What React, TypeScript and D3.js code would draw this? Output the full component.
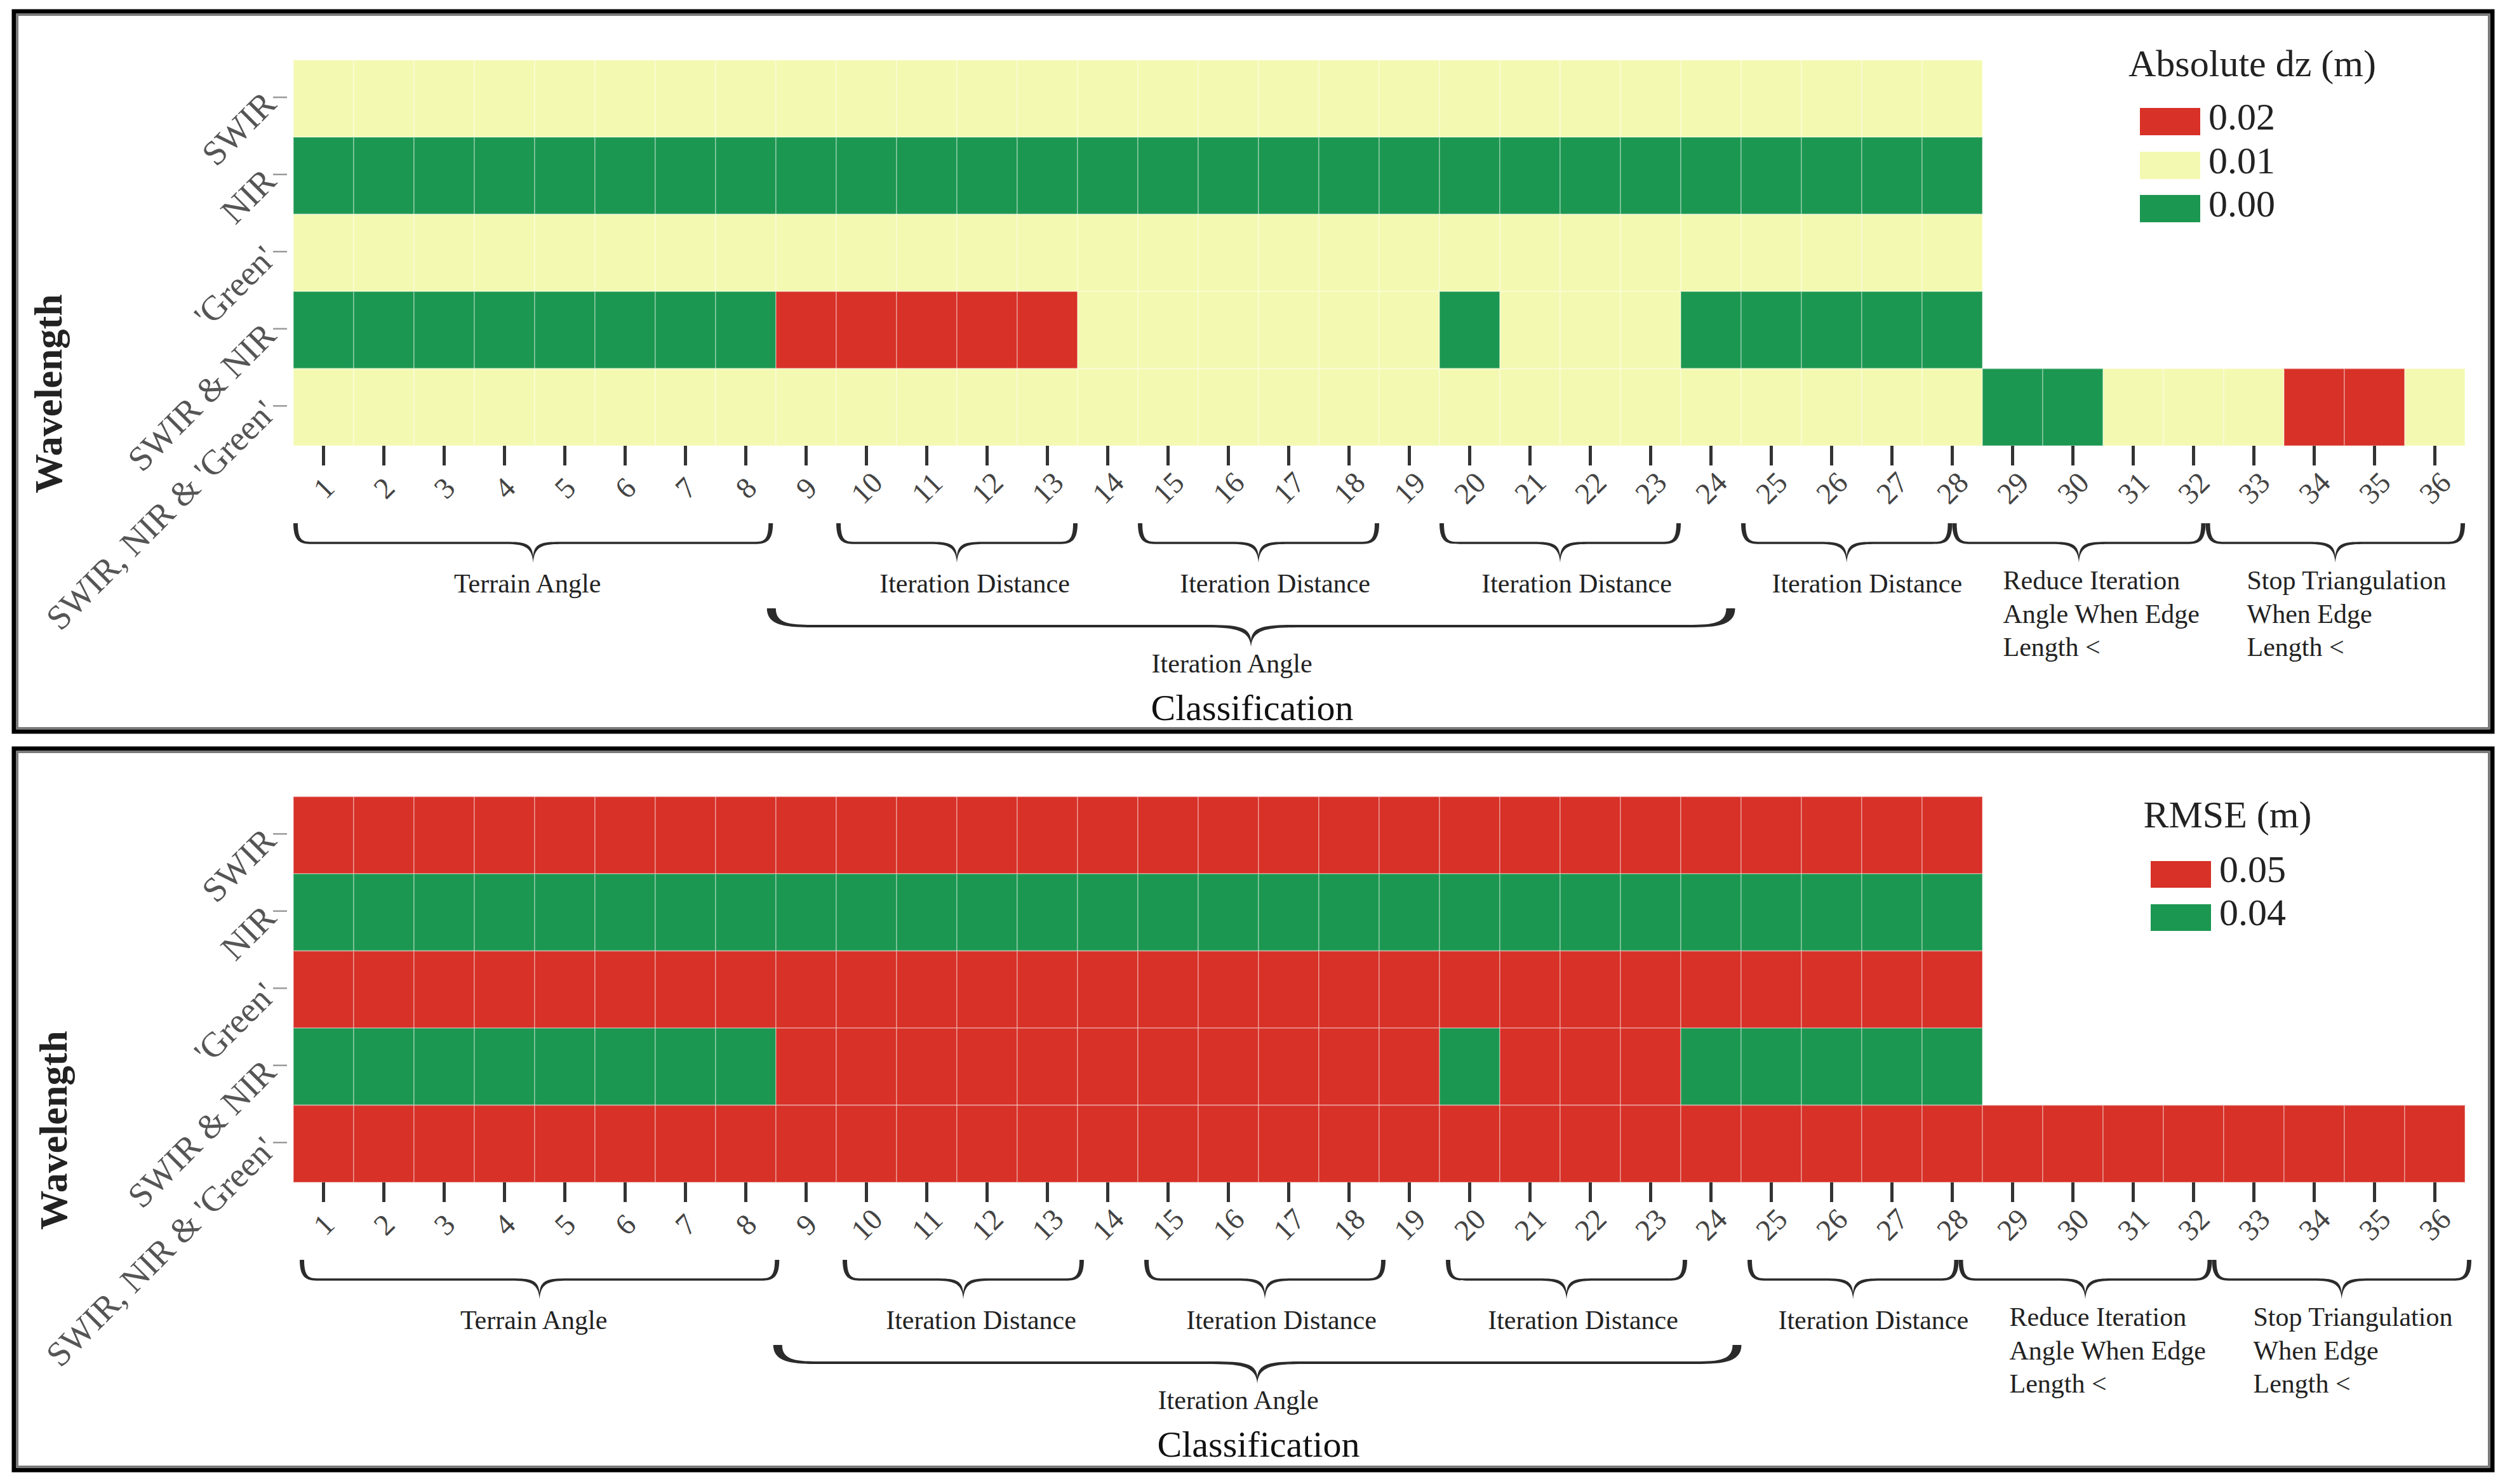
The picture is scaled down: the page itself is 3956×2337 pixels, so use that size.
import React from 'react';
import * as d3 from 'd3';

const classifications = [
  '1', '2', '3', '4', '5', '6', '7', '8', '9', '10', '11', '12',
  '13', '14', '15', '16', '17', '18', '19', '20', '21', '22', '23', '24',
  '25', '26', '27', '28', '29', '30', '31', '32', '33', '34', '35', '36',
];
const wavelengths = ['SWIR', 'NIR', "'Green'", 'SWIR & NIR', "SWIR, NIR & 'Green'"];

// Absolute dz (m)
const dzSWIR = [
  0.01, 0.01, 0.01, 0.01, 0.01, 0.01, 0.01,
  0.01, 0.01, 0.01, 0.01, 0.01, 0.01, 0.01,
  0.01, 0.01, 0.01, 0.01, 0.01, 0.01, 0.01,
  0.01, 0.01, 0.01, 0.01, 0.01, 0.01, 0.01,
];
const dzNIR = [
  0.0, 0.0, 0.0, 0.0, 0.0, 0.0, 0.0,
  0.0, 0.0, 0.0, 0.0, 0.0, 0.0, 0.0,
  0.0, 0.0, 0.0, 0.0, 0.0, 0.0, 0.0,
  0.0, 0.0, 0.0, 0.0, 0.0, 0.0, 0.0,
];
const dzGreen = [
  0.01, 0.01, 0.01, 0.01, 0.01, 0.01, 0.01,
  0.01, 0.01, 0.01, 0.01, 0.01, 0.01, 0.01,
  0.01, 0.01, 0.01, 0.01, 0.01, 0.01, 0.01,
  0.01, 0.01, 0.01, 0.01, 0.01, 0.01, 0.01,
];
const dzSwirNir = [
  0.0, 0.0, 0.0, 0.0, 0.0, 0.0, 0.0,
  0.0, 0.02, 0.02, 0.02, 0.02, 0.02, 0.01,
  0.01, 0.01, 0.01, 0.01, 0.01, 0.0, 0.01,
  0.01, 0.01, 0.0, 0.0, 0.0, 0.0, 0.0,
];
const dzAll = [
  0.01, 0.01, 0.01, 0.01, 0.01, 0.01, 0.01,
  0.01, 0.01, 0.01, 0.01, 0.01, 0.01, 0.01,
  0.01, 0.01, 0.01, 0.01, 0.01, 0.01, 0.01,
  0.01, 0.01, 0.01, 0.01, 0.01, 0.01, 0.01,
  0.0, 0.0, 0.01, 0.01, 0.01, 0.02, 0.02, 0.01,
];

// RMSE (m)
const rmseSWIR = [
  0.05, 0.05, 0.05, 0.05, 0.05, 0.05, 0.05,
  0.05, 0.05, 0.05, 0.05, 0.05, 0.05, 0.05,
  0.05, 0.05, 0.05, 0.05, 0.05, 0.05, 0.05,
  0.05, 0.05, 0.05, 0.05, 0.05, 0.05, 0.05,
];
const rmseNIR = [
  0.04, 0.04, 0.04, 0.04, 0.04, 0.04, 0.04,
  0.04, 0.04, 0.04, 0.04, 0.04, 0.04, 0.04,
  0.04, 0.04, 0.04, 0.04, 0.04, 0.04, 0.04,
  0.04, 0.04, 0.04, 0.04, 0.04, 0.04, 0.04,
];
const rmseGreen = [
  0.05, 0.05, 0.05, 0.05, 0.05, 0.05, 0.05,
  0.05, 0.05, 0.05, 0.05, 0.05, 0.05, 0.05,
  0.05, 0.05, 0.05, 0.05, 0.05, 0.05, 0.05,
  0.05, 0.05, 0.05, 0.05, 0.05, 0.05, 0.05,
];
const rmseSwirNir = [
  0.04, 0.04, 0.04, 0.04, 0.04, 0.04, 0.04,
  0.04, 0.05, 0.05, 0.05, 0.05, 0.05, 0.05,
  0.05, 0.05, 0.05, 0.05, 0.05, 0.04, 0.05,
  0.05, 0.05, 0.04, 0.04, 0.04, 0.04, 0.04,
];
const rmseAll = [
  0.05, 0.05, 0.05, 0.05, 0.05, 0.05, 0.05,
  0.05, 0.05, 0.05, 0.05, 0.05, 0.05, 0.05,
  0.05, 0.05, 0.05, 0.05, 0.05, 0.05, 0.05,
  0.05, 0.05, 0.05, 0.05, 0.05, 0.05, 0.05,
  0.05, 0.05, 0.05, 0.05, 0.05, 0.05, 0.05, 0.05,
];

const dzLegendValues = ['0.02', '0.01', '0.00'];
const rmseLegendValues = ['0.05', '0.04'];

// classification groups (spans in tick units)
const groupLabels = [
  ['Terrain Angle'],
  ['Iteration Distance'],
  ['Iteration Distance'],
  ['Iteration Distance'],
  ['Iteration Distance'],
  ['Reduce Iteration', 'Angle When Edge', 'Length <'],
  ['Stop Triangulation', 'When Edge', 'Length <'],
];
const groupFrom = [0.5, 9.5, 14.5, 19.5, 24.5, 28, 32.2];
const groupTo = [8.45, 13.5, 18.5, 23.5, 28, 32.2, 36.5];
const outerLabel = 'Iteration Angle';
const outerFrom = 8.35;
const outerTo = 24.4;

// styling / layout (not data)
const RED = '#d73128';
const YELLOW = '#f4f9b2';
const GREEN = '#1c9751';
const FONT = "'Liberation Serif', 'Times New Roman', Times, serif";
const labelShift = [-9, 28, 26, 26, 32, 80, 65];

function bracePath(x0: number, x1: number, yT: number, yM: number, yP: number, r: number, rm: number, tH: number, wE: number, notch: number) {
  const xm = (x0 + x1) / 2;
  const b = yM + tH;
  const t = yM - tH;
  const p = d3.path();
  p.moveTo(x0, yT);
  p.bezierCurveTo(x0, b, x0 + r * 0.45, b, x0 + r, b);
  p.lineTo(xm - rm, b);
  p.bezierCurveTo(xm - rm * 0.35, b, xm - 2, b + 2, xm, yP);
  p.bezierCurveTo(xm + 2, b + 2, xm + rm * 0.35, b, xm + rm, b);
  p.lineTo(x1 - r, b);
  p.bezierCurveTo(x1 - r * 0.45, b, x1, b, x1, yT);
  p.lineTo(x1 - wE, yT);
  p.bezierCurveTo(x1 - wE, t, x1 - r * 0.5, t, x1 - r, t);
  p.lineTo(xm + rm, t);
  p.bezierCurveTo(xm + rm * 0.35, t, xm + 1, t, xm, notch);
  p.bezierCurveTo(xm - 1, t, xm - rm * 0.35, t, xm - rm, t);
  p.lineTo(x0 + r, t);
  p.bezierCurveTo(x0 + r * 0.5, t, x0 + wE, t, x0 + wE, yT);
  p.closePath();
  return p.toString();
}

type LegendLayout = { titleX: number; titleY: number; swX: number; swY: number[]; swH: number; labX: number };

function Panel(props: {
  rows: number[][];
  legendTitle: string;
  legendValues: string[];
  legendColors: string[];
  oy: number;
  adx: number;
  frameY: number;
  frameH: number;
  lg: LegendLayout;
}) {
  const { rows, legendTitle, legendValues, legendColors, oy, adx, frameY, frameH, lg } = props;
  const x = d3.scaleBand<string>().domain(classifications).range([462, 3882]);
  const y = d3.scaleBand<string>().domain(wavelengths).range([94.5 + oy, 702 + oy]);
  const color = d3.scaleOrdinal<string, string>().domain(legendValues).range(legendColors);
  const xc = d3.scaleLinear().domain([0.5, 36.5]).range([462 + adx, 3882 + adx]);
  const bw = x.bandwidth();
  const bh = y.bandwidth();
  const axisY = 702 + oy;

  return (
    <g>
      {/* frame */}
      <rect x={22} y={frameY} width={3903} height={frameH} fill="none" stroke="#000" strokeWidth={7} />
      <rect x={27.5} y={frameY + 5.5} width={3892} height={frameH - 11} fill="none" stroke="#7a7a7a" strokeWidth={3} />

      {/* cells */}
      {rows.map((vals, r) =>
        vals.map((v, i) => (
          <rect
            key={`c${r}-${i}`}
            x={x(classifications[i])}
            y={y(wavelengths[r])}
            width={bw}
            height={bh}
            fill={color(v.toFixed(2))}
            stroke="rgba(255,255,255,0.3)"
            strokeWidth={2}
          />
        ))
      )}

      {/* y axis */}
      {wavelengths.map((w) => {
        const yc = (y(w) as number) + bh / 2 - 2;
        return (
          <g key={w}>
            <line x1={430} x2={452} y1={yc} y2={yc} stroke="#9a9a9a" strokeWidth={2.5} />
            <text
              x={424}
              y={yc}
              dy="0.35em"
              textAnchor="end"
              transform={`rotate(-45, 424, ${yc})`}
              fontFamily={FONT}
              fontSize={55}
              fill="#555"
            >
              {w}
            </text>
          </g>
        );
      })}
      <text
        x={75 + adx * 0.8}
        y={620 + oy}
        textAnchor="middle"
        dy="0.35em"
        transform={`rotate(-90, ${75 + adx * 0.8}, ${620 + oy})`}
        fontFamily={FONT}
        fontSize={62}
        fontWeight="bold"
        fill="#222"
      >
        Wavelength
      </text>

      {/* x axis */}
      {classifications.map((c) => {
        const cx = (x(c) as number) + bw / 2;
        const ly = 768 + oy;
        return (
          <g key={c}>
            <line x1={cx} x2={cx} y1={axisY} y2={axisY + 31} stroke="#333" strokeWidth={5} />
            <text
              x={cx}
              y={ly}
              dy="0.35em"
              textAnchor="middle"
              transform={`rotate(-45, ${cx}, ${ly})`}
              fontFamily={FONT}
              fontSize={47}
              fill="#444"
            >
              {c}
            </text>
          </g>
        );
      })}

      {/* group braces */}
      {groupLabels.map((lab, gi) => {
        const x0 = xc(groupFrom[gi]);
        const x1 = xc(groupTo[gi]);
        const d = bracePath(x0, x1, 824 + oy, 855 + oy, 886 + oy, 32, 48, 1.7, 7, 877 + oy);
        return (
          <g key={`g${gi}`}>
            <path d={d} fill="#2b2b2b" />
            {lab.length === 1 ? (
              <text
                x={(x0 + x1) / 2 + labelShift[gi]}
                y={933 + oy}
                textAnchor="middle"
                fontFamily={FONT}
                fontSize={42}
                fill="#222"
              >
                {lab[0]}
              </text>
            ) : (
              lab.map((line, li) => (
                <text
                  key={line}
                  x={x0 + labelShift[gi]}
                  y={928 + oy + li * 52.5}
                  textAnchor="start"
                  fontFamily={FONT}
                  fontSize={42}
                  fill="#222"
                >
                  {line}
                </text>
              ))
            )}
          </g>
        );
      })}
      <path
        d={bracePath(xc(outerFrom), xc(outerTo), 958 + oy, 986 + oy, 1019 + oy, 80, 80, 2, 14, 1009 + oy)}
        fill="#2b2b2b"
      />
      <text
        x={(xc(outerFrom) + xc(outerTo)) / 2 - 30}
        y={1059 + oy}
        textAnchor="middle"
        fontFamily={FONT}
        fontSize={42}
        fill="#222"
      >
        {outerLabel}
      </text>
      <text x={1972 + adx} y={1134 + oy} textAnchor="middle" fontFamily={FONT} fontSize={58} fill="#111">
        Classification
      </text>

      {/* legend */}
      <text x={lg.titleX} y={lg.titleY} textAnchor="middle" fontFamily={FONT} fontSize={60} fill="#222">
        {legendTitle}
      </text>
      {legendValues.map((v, i) => (
        <g key={v}>
          <rect x={lg.swX} y={lg.swY[i]} width={95} height={lg.swH} fill={color(v)} />
          <text x={lg.labX} y={lg.swY[i] + lg.swH - 9} fontFamily={FONT} fontSize={60} fill="#222">
            {v}
          </text>
        </g>
      ))}
    </g>
  );
}

export default function App() {
  return (
    <svg
      width={3956}
      height={2337}
      viewBox="0 0 3956 2337"
      style={{ position: 'absolute', left: 0, top: 0, background: '#fff' }}
    >
      <rect x={0} y={0} width={3956} height={2337} fill="#fff" />
      <Panel
        rows={[dzSWIR, dzNIR, dzGreen, dzSwirNir, dzAll]}
        legendTitle="Absolute dz (m)"
        legendValues={dzLegendValues}
        legendColors={[RED, YELLOW, GREEN]}
        oy={0}
        adx={0}
        frameY={18}
        frameH={1134}
        lg={{ titleX: 3547, titleY: 120, swX: 3370, swY: [170, 239, 307], swH: 43, labX: 3478 }}
      />
      <Panel
        rows={[rmseSWIR, rmseNIR, rmseGreen, rmseSwirNir, rmseAll]}
        legendTitle="RMSE (m)"
        legendValues={rmseLegendValues}
        legendColors={[RED, GREEN]}
        oy={1160}
        adx={10}
        frameY={1179}
        frameH={1136}
        lg={{ titleX: 3508, titleY: 1303, swX: 3387, swY: [1356, 1424], swH: 42, labX: 3495 }}
      />
    </svg>
  );
}
